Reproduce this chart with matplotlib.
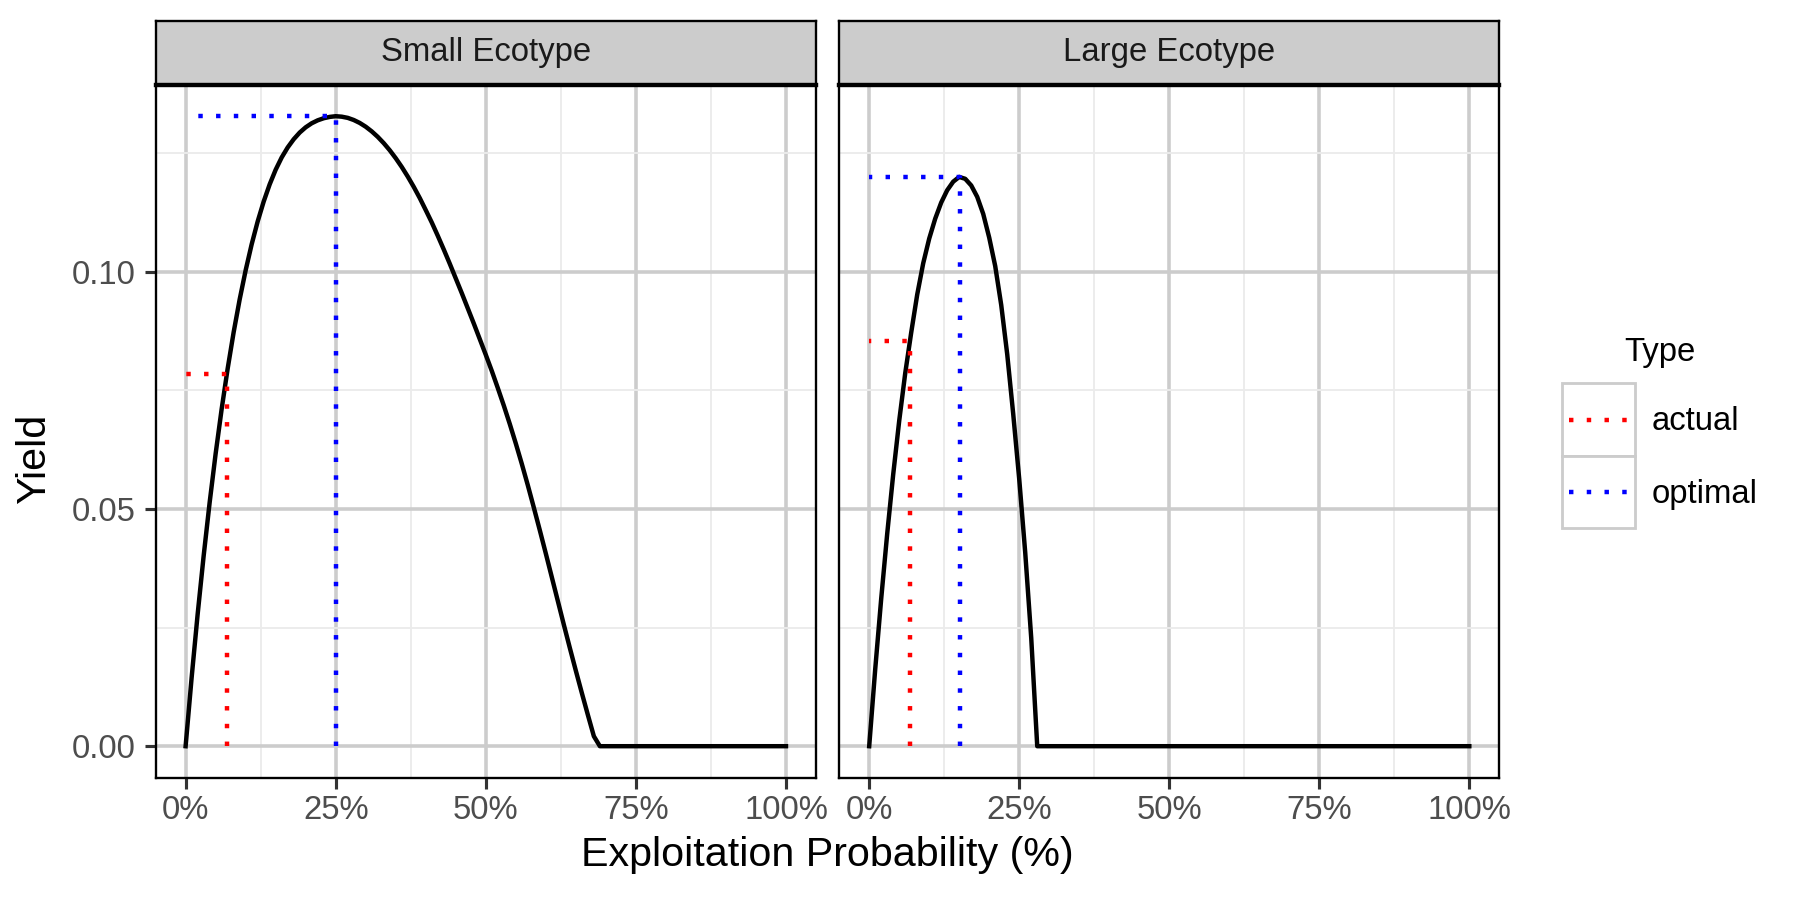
import matplotlib
matplotlib.use("Agg")
import matplotlib.pyplot as plt
from matplotlib.patches import Rectangle
from matplotlib.ticker import FuncFormatter, MultipleLocator

plt.rcParams['font.family'] = ['Liberation Sans', 'DejaVu Sans']

ecotypes = ["Small Ecotype", "Large Ecotype"]

# exploitation probability grid, 0..100 %
u_grid = [i / 100 for i in range(101)]

# yield at each 1 % step; zero beyond the last value
y_small = [0.0, 0.01444, 0.02778, 0.04007, 0.05135, 0.06166, 0.07105, 0.07957,
           0.08726, 0.09416, 0.10032, 0.10579, 0.1106, 0.1148, 0.11843, 0.12152,
           0.1241, 0.12621, 0.12794, 0.12935, 0.13046, 0.13131, 0.13193, 0.13237,
           0.13265, 0.1328, 0.1327, 0.13245, 0.1320, 0.13138, 0.13058, 0.1296,
           0.12845, 0.12712, 0.12562, 0.12394, 0.1221, 0.12008, 0.1179, 0.11555,
           0.1130, 0.1104, 0.1076, 0.1047, 0.1017, 0.0986, 0.0955, 0.0923,
           0.0891, 0.0858, 0.0825, 0.0791, 0.0755, 0.0718, 0.0679, 0.0638,
           0.0595, 0.0550, 0.0503, 0.0455, 0.0406, 0.0356, 0.0306, 0.0256,
           0.0207, 0.0159, 0.0112, 0.0066, 0.0021]
y_large = [0.0, 0.0162, 0.0311, 0.0448, 0.0573, 0.0686, 0.0786, 0.0872,
           0.0952, 0.1018, 0.1070, 0.1112, 0.1146, 0.1172, 0.1190, 0.1200,
           0.1196, 0.1182, 0.1158, 0.1122, 0.1072, 0.1012, 0.0930, 0.0826,
           0.0700, 0.0563, 0.0408, 0.0228, 0.0]
y_small = y_small + [0.0] * (101 - len(y_small))
y_large = y_large + [0.0] * (101 - len(y_large))

actual_u = [0.0686, 0.0686]
actual_y = [0.0784, 0.0855]
optimal_u = [0.250, 0.151]
optimal_y = [0.1328, 0.1200]

types = ["actual", "optimal"]
type_colors = {"actual": "#FF0000", "optimal": "#0000FF"}

curves = [y_small, y_large]
points = {"actual": (actual_u, actual_y), "optimal": (optimal_u, optimal_y)}

W, H = 1800, 900
fig = plt.figure(figsize=(8, 4), dpi=225)


def px_box(x0, y0, x1, y1):
    return [x0 / W, 1 - y1 / H, (x1 - x0) / W, (y1 - y0) / H]


panel_x = [(155.6, 816.0), (839.2, 1499.3)]
panel_top, panel_bottom, strip_top = 84.7, 777.7, 21.3

small_txt = 10.5
big_txt = 13.2
ymax = max(max(y_small), max(y_large))
pct = FuncFormatter(lambda v, p: "%d%%" % round(v * 100))
lw_line = 1.42

for i, name in enumerate(ecotypes):
    x0, x1 = panel_x[i]
    ax = fig.add_axes(px_box(x0, panel_top, x1, panel_bottom))
    ax.set_xlim(-0.05, 1.05)
    ax.set_ylim(-0.05 * ymax, 1.05 * ymax)
    ax.xaxis.set_major_locator(MultipleLocator(0.25))
    ax.xaxis.set_minor_locator(MultipleLocator(0.125))
    ax.yaxis.set_major_locator(MultipleLocator(0.05))
    ax.yaxis.set_minor_locator(MultipleLocator(0.025))
    ax.xaxis.set_major_formatter(pct)
    ax.yaxis.set_major_formatter(FuncFormatter(lambda v, p: "%.2f" % v))
    ax.set_axisbelow(True)
    ax.grid(which='major', color='#CCCCCC', linewidth=1.15)
    ax.grid(which='minor', color='#EBEBEB', linewidth=0.6)
    ax.tick_params(which='major', length=3.5, width=1.0, color='#333333',
                   labelsize=small_txt, labelcolor='#4D4D4D')
    ax.tick_params(axis='x', which='major', pad=2.0)
    ax.tick_params(axis='y', which='major', pad=2.9)
    ax.tick_params(which='minor', length=0)
    if i > 0:
        ax.tick_params(axis='y', which='both', left=False, labelleft=False)
    for s in ax.spines.values():
        s.set_color('black')
        s.set_linewidth(0.75)

    ax.plot(u_grid, curves[i], color='black', linewidth=lw_line, zorder=3)
    for t in types:
        pu, py = points[t]
        ax.plot([pu[i], pu[i], 0], [0, py[i], py[i]], color=type_colors[t],
                linewidth=lw_line, linestyle=(0, (1, 3)),
                dash_capstyle='butt', zorder=4)

    st = fig.add_axes(px_box(x0, strip_top, x1, panel_top))
    st.set_facecolor('#CCCCCC')
    st.set_xticks([])
    st.set_yticks([])
    for s in st.spines.values():
        s.set_color('black')
        s.set_linewidth(0.75)
    st.spines['bottom'].set_linewidth(1.4)
    st.text(0.5, 0.5, name, ha='center', va='center', fontsize=small_txt,
            color='#1A1A1A', transform=st.transAxes)

fig.text(827.5 / W, 1 - 855 / H, "Exploitation Probability (%)",
         ha='center', va='center', fontsize=big_txt)
fig.text(34 / W, 1 - 459 / H, "Yield", ha='center', va='center',
         rotation=90, fontsize=big_txt)

# legend drawn by hand in pixel units
lg = fig.add_axes(px_box(1540, 320, 1800, 540))
lg.set_xlim(1540, 1800)
lg.set_ylim(540, 320)
lg.axis('off')
lg.text(1660, 353, "Type", ha='center', va='center', fontsize=small_txt)
key_top = 383.3
key_h = 72.5
for k, t in enumerate(types):
    ky = key_top + k * key_h
    lg.add_patch(Rectangle((1562, ky), 73, key_h, facecolor='white',
                           edgecolor='#CCCCCC', linewidth=0.9))
    lg.plot([1569.3, 1627.7], [ky + key_h / 2] * 2, color=type_colors[t],
            linewidth=lw_line, linestyle=(0, (1, 3)), dash_capstyle='butt')
    lg.text(1652, ky + key_h / 2 + 2, t, ha='left', va='center',
            fontsize=small_txt)

fig.savefig("out.png", dpi=225)
